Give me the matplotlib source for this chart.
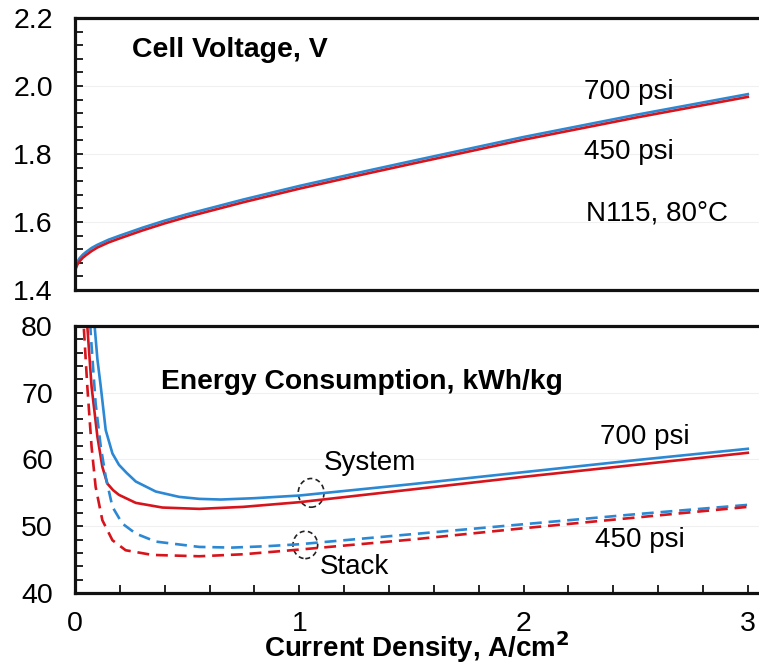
import matplotlib
matplotlib.use("Agg")
import matplotlib.pyplot as plt
from matplotlib.patches import Ellipse
from matplotlib.ticker import MultipleLocator

plt.rcParams['font.family'] = ['Liberation Sans', 'DejaVu Sans']

BLUE = '#2b88d4'
RED = '#d7141c'

# Cell voltage (V) vs current density (A/cm2)
j_v = [0.003, 0.01, 0.02, 0.035, 0.05, 0.075, 0.1, 0.15, 0.2, 0.3, 0.4, 0.5, 0.75, 1.0,
       1.25, 1.5, 2.0, 2.5, 3.0]
v_450 = [1.462, 1.474, 1.484, 1.495, 1.503, 1.515, 1.525, 1.540, 1.552, 1.575, 1.596,
         1.615, 1.658, 1.698, 1.735, 1.771, 1.842, 1.907, 1.968]
v_700 = [1.466, 1.482, 1.493, 1.504, 1.512, 1.524, 1.533, 1.548, 1.560, 1.583, 1.604,
         1.623, 1.666, 1.706, 1.743, 1.779, 1.850, 1.915, 1.976]

# Energy consumption (kWh/kg)
j_sys450 = [0.045, 0.055, 0.074, 0.1, 0.122, 0.144, 0.17, 0.196, 0.271, 0.39, 0.554,
            0.75, 1.0, 1.5, 2.0, 2.5, 3.0]
e_sys450 = [88, 79.9, 70.9, 63.4, 58.9, 56.4, 55.4, 54.7, 53.5, 52.8, 52.6,
            52.9, 53.6, 55.5, 57.4, 59.2, 61.0]

j_sys700 = [0.075, 0.08, 0.089, 0.1, 0.115, 0.137, 0.167, 0.196, 0.23, 0.271, 0.36,
            0.464, 0.554, 0.65, 0.8, 1.0, 1.5, 2.0, 2.5, 3.0]
e_sys700 = [95, 84, 79.4, 75, 70.9, 64.4, 60.9, 59.2, 58.0, 56.7, 55.2,
            54.4, 54.1, 54.0, 54.2, 54.6, 56.3, 58.1, 59.9, 61.6]

j_stk700 = [0.06, 0.07, 0.092, 0.115, 0.137, 0.167, 0.211, 0.271, 0.36, 0.554, 0.7,
            0.85, 1.0, 1.5, 2.0, 2.5, 3.0]
e_stk700 = [86, 78.9, 68.4, 61.9, 57.4, 52.9, 50.4, 48.9, 47.7, 46.9, 46.8,
            47.0, 47.3, 48.8, 50.3, 51.8, 53.2]

j_stk450 = [0.032, 0.04, 0.055, 0.074, 0.092, 0.122, 0.167, 0.226, 0.345, 0.554, 0.75,
            1.0, 1.5, 2.0, 2.5, 3.0]
e_stk450 = [88, 79.4, 70.9, 61.9, 55.9, 50.9, 47.9, 46.4, 45.7, 45.5, 45.8,
            46.5, 48.0, 49.7, 51.3, 52.9]

x_ticks = [0, 1, 2, 3]

fig = plt.figure(figsize=(7.59, 6.65), dpi=100)
ax1 = fig.add_axes([0.0988, 0.5639, 0.9012, 0.409])
ax2 = fig.add_axes([0.0988, 0.1083, 0.9012, 0.4015])

LW = 1.9
DASH = (0, (4.5, 2.6))

ax1.plot(j_v, v_700, color=BLUE, lw=LW)
ax1.plot(j_v, v_450, color=RED, lw=LW)

ax2.plot(j_sys700, e_sys700, color=BLUE, lw=LW)
ax2.plot(j_sys450, e_sys450, color=RED, lw=LW)
ax2.plot(j_stk700, e_stk700, color=BLUE, lw=LW, linestyle=DASH)
ax2.plot(j_stk450, e_stk450, color=RED, lw=LW, linestyle=DASH)

for ax in (ax1, ax2):
    ax.set_xlim(0, 3.05)
    for s in ('left', 'bottom', 'top'):
        ax.spines[s].set_linewidth(2.3)
        ax.spines[s].set_color('#111111')
    ax.spines['right'].set_visible(False)
    ax.tick_params(axis='y', which='both', direction='in', length=6, width=1.2,
                   labelsize=20.5, pad=16, right=False)
    ax.yaxis.grid(True, which='major', color='#f0f0f0', lw=0.8)
    ax.set_axisbelow(True)

ax1.set_ylim(1.4, 2.2)
ax1.yaxis.set_minor_locator(MultipleLocator(0.04))
ax1.set_yticks([1.4, 1.6, 1.8, 2.0, 2.2])
ax1.set_yticklabels(['1.4', '1.6', '1.8', '2.0', '2.2'])
ax1.tick_params(axis='x', which='both', bottom=False, top=False, labelbottom=False)

ax2.set_ylim(40, 80)
ax2.yaxis.set_major_locator(MultipleLocator(10))
ax2.yaxis.set_minor_locator(MultipleLocator(2))
ax2.set_xticks(x_ticks)
ax2.set_xticklabels([str(t) for t in x_ticks])
ax2.xaxis.set_minor_locator(MultipleLocator(0.2))
ax2.tick_params(axis='x', which='both', direction='in', length=6, width=1.2,
                labelsize=20.5, pad=13, top=False)

ax2.set_xlabel('Current Density, A/cm$^\\mathbf{2}$', fontsize=20, fontweight='bold',
               labelpad=-6)

# Annotations, top panel
ax1.text(0.254, 2.106, 'Cell Voltage, V', fontsize=20.5, fontweight='bold', va='center')
ax1.text(2.27, 1.982, '700 psi', fontsize=20, va='center')
ax1.text(2.27, 1.806, '450 psi', fontsize=20, va='center')
ax1.text(2.28, 1.626, 'N115, 80°C', fontsize=20, va='center')

# Annotations, bottom panel
ax2.text(0.384, 71.6, 'Energy Consumption, kWh/kg', fontsize=20.3, fontweight='bold',
         va='center')
ax2.text(1.11, 59.5, 'System', fontsize=20, va='center')
ax2.text(1.09, 43.9, 'Stack', fontsize=20, va='center')
ax2.text(2.34, 63.4, '700 psi', fontsize=20, va='center')
ax2.text(2.32, 48.0, '450 psi', fontsize=20, va='center')

ax2.add_patch(Ellipse((1.053, 55.0), 0.115, 4.3, fill=False, ec='#222222', lw=1.2,
                      linestyle=(0, (3, 2))))
ax2.add_patch(Ellipse((1.027, 47.2), 0.11, 4.1, fill=False, ec='#222222', lw=1.2,
                      linestyle=(0, (3, 2))))

fig.savefig('out.png', dpi=100)
